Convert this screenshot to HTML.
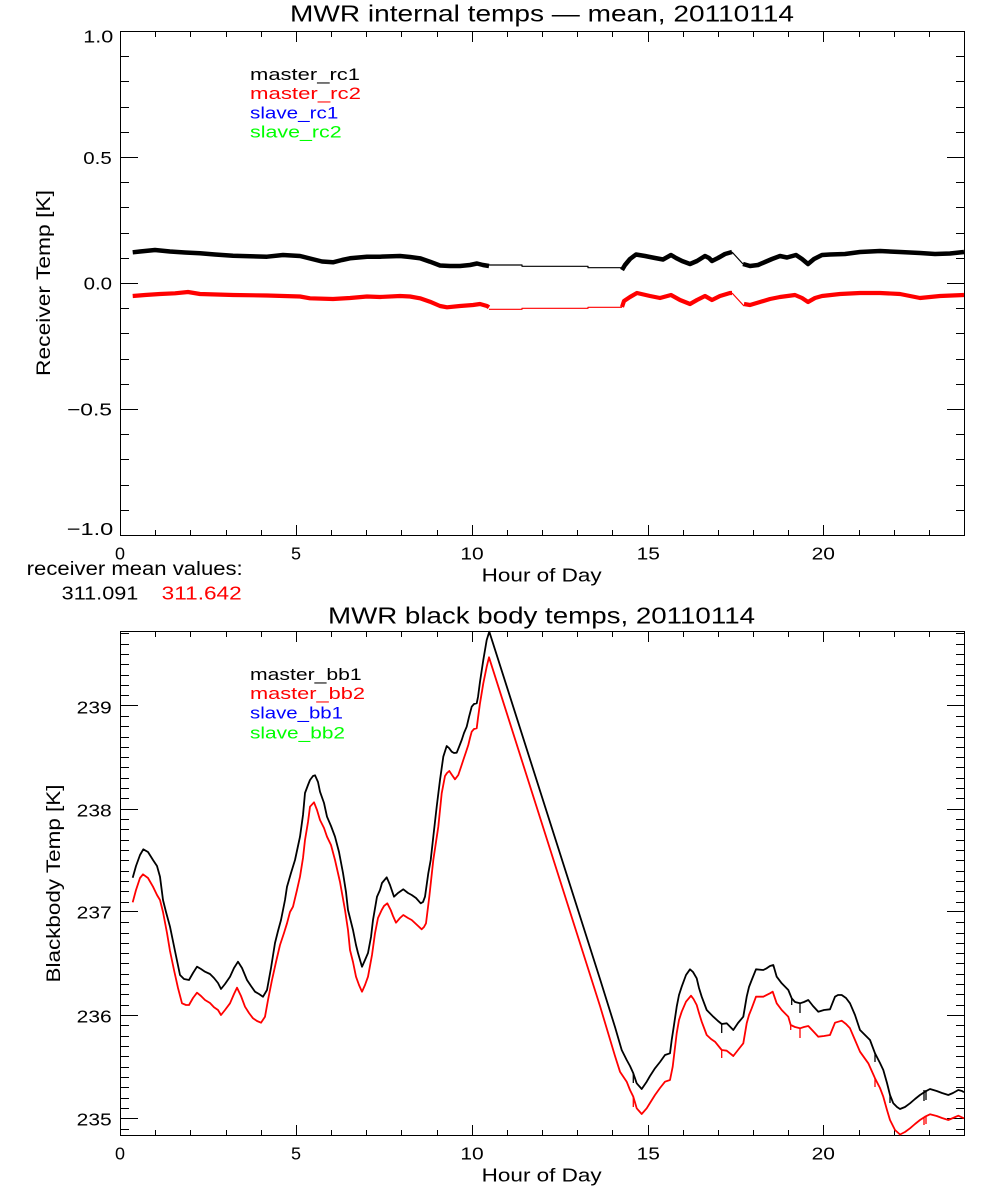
<!DOCTYPE html>
<html>
<head>
<meta charset="utf-8">
<style>
html,body{margin:0;padding:0;background:#fff;}
svg{display:block;}
text{font-family:"Liberation Sans","DejaVu Sans",sans-serif;}
</style>
</head>
<body>
<svg width="1000" height="1200" viewBox="0 0 1000 1200" xmlns="http://www.w3.org/2000/svg">
<rect width="1000" height="1200" fill="#fff"/>

<!-- ================= TOP PLOT ================= -->
<text x="542" y="21.7" font-size="23" text-anchor="middle" textLength="504" lengthAdjust="spacingAndGlyphs">MWR internal temps — mean, 20110114</text>

<g stroke="#000" stroke-width="1" fill="none" shape-rendering="crispEdges">
<rect x="120.5" y="31.5" width="844" height="504"/>
<!-- x ticks bottom -->
<path d="M120.5 535v-10M155.5 535v-5M190.5 535v-5M226.5 535v-5M261.5 535v-5M296.5 535v-10M331.5 535v-5M366.5 535v-5M401.5 535v-5M437.5 535v-5M472.5 535v-10M507.5 535v-5M542.5 535v-5M577.5 535v-5M612.5 535v-5M648.5 535v-10M683.5 535v-5M718.5 535v-5M753.5 535v-5M788.5 535v-5M823.5 535v-10M859.5 535v-5M894.5 535v-5M929.5 535v-5M964.5 535v-10"/>
<!-- x ticks top -->
<path d="M120.5 32v10M155.5 32v5M190.5 32v5M226.5 32v5M261.5 32v5M296.5 32v10M331.5 32v5M366.5 32v5M401.5 32v5M437.5 32v5M472.5 32v10M507.5 32v5M542.5 32v5M577.5 32v5M612.5 32v5M648.5 32v10M683.5 32v5M718.5 32v5M753.5 32v5M788.5 32v5M823.5 32v10M859.5 32v5M894.5 32v5M929.5 32v5M964.5 32v10"/>
<!-- y ticks left -->
<path d="M121 56.5h8M121 81.5h8M121 107.5h8M121 132.5h8M121 157.5h17M121 182.5h8M121 207.5h8M121 233.5h8M121 258.5h8M121 283.5h17M121 308.5h8M121 333.5h8M121 359.5h8M121 384.5h8M121 409.5h17M121 434.5h8M121 459.5h8M121 485.5h8M121 510.5h8"/>
<!-- y ticks right -->
<path d="M964 56.5h-8M964 81.5h-8M964 107.5h-8M964 132.5h-8M964 157.5h-17M964 182.5h-8M964 207.5h-8M964 233.5h-8M964 258.5h-8M964 283.5h-17M964 308.5h-8M964 333.5h-8M964 359.5h-8M964 384.5h-8M964 409.5h-17M964 434.5h-8M964 459.5h-8M964 485.5h-8M964 510.5h-8"/>
</g>

<!-- top y labels -->
<g font-size="17.5" text-anchor="end">
<text x="113.3" y="42.7" textLength="30" lengthAdjust="spacingAndGlyphs">1.0</text>
<text x="111.7" y="164" textLength="28.4" lengthAdjust="spacingAndGlyphs">0.5</text>
<text x="112" y="289.3" textLength="28.4" lengthAdjust="spacingAndGlyphs">0.0</text>
<text x="112" y="415.3" textLength="45" lengthAdjust="spacingAndGlyphs">−0.5</text>
<text x="113.3" y="535" textLength="46.6" lengthAdjust="spacingAndGlyphs">−1.0</text>
</g>
<!-- top x labels -->
<g font-size="17.5" text-anchor="middle">
<text x="120" y="559.3" textLength="10" lengthAdjust="spacingAndGlyphs">0</text>
<text x="296" y="559.3" textLength="10" lengthAdjust="spacingAndGlyphs">5</text>
<text x="472" y="559.3" textLength="23.3" lengthAdjust="spacingAndGlyphs">10</text>
<text x="648.3" y="559.3" textLength="23.3" lengthAdjust="spacingAndGlyphs">15</text>
<text x="823.3" y="559.3" textLength="23.3" lengthAdjust="spacingAndGlyphs">20</text>
</g>
<text x="541.7" y="581.7" font-size="18.5" text-anchor="middle" textLength="120" lengthAdjust="spacingAndGlyphs">Hour of Day</text>
<text transform="translate(50,283) rotate(-90)" font-size="19" text-anchor="middle" textLength="186" lengthAdjust="spacingAndGlyphs">Receiver Temp [K]</text>

<!-- top legend -->
<g font-size="16.5">
<text x="250" y="80" fill="#000" textLength="110" lengthAdjust="spacingAndGlyphs">master_rc1</text>
<text x="250" y="99" fill="#ff0000" textLength="111" lengthAdjust="spacingAndGlyphs">master_rc2</text>
<text x="250" y="118.3" fill="#0000ff" textLength="88.3" lengthAdjust="spacingAndGlyphs">slave_rc1</text>
<text x="250" y="137.7" fill="#00ff00" textLength="91.7" lengthAdjust="spacingAndGlyphs">slave_rc2</text>
</g>

<!-- top data -->
<g fill="none" stroke-linejoin="round" stroke-linecap="butt">
<polyline stroke="#000" stroke-width="4.5" points="132.7,252.3 140,251.5 155,250 170,251.5 185,252.5 200,253.3 215,254.5 233,255.7 250,256.3 267,256.7 283,255 300,256 312,259 322,261.5 333,262.3 342,260 350,258.3 367,256.7 380,256.7 400,256 410,257 420,258.3 430,261.7 440,265.5 450,266 460,266 470,265 477,263.5 483,265 489,266"/>
<polyline stroke="#000" stroke-width="1.2" points="489,265 522,265 522,266.3 588,266.3 588,267.7 622,267.7"/>
<polyline stroke="#000" stroke-width="4.5" points="622,270 625,265 630,259 636,254.5 645,256 655,258 663,259.5 671,255 676,258 682,261 690,264 697,261 705,256 709,258 712,261 718,258 725,254 732,252"/>
<polyline stroke="#000" stroke-width="1.2" points="732,252 743,264"/>
<polyline stroke="#000" stroke-width="4.5" points="743,264 750,266 758,265 765,262 772,259 780,256 787,257.5 796,255 802,259 808,264 814,259 822,255 830,254.5 845,254 860,252 880,251 900,252 920,253 935,254 950,253.5 964,252"/>

<polyline stroke="#ff0000" stroke-width="4.2" points="132.7,296 145,295 160,294 175,293.3 188,292 200,294 233,295 267,295.5 300,296.5 310,298.3 333,299 350,298 367,296.5 380,297 400,296 410,296.5 420,298.3 430,301.7 440,306 447,307.3 460,306 473,305 480,304 487,306 489,307.3"/>
<polyline stroke="#ff0000" stroke-width="1.2" points="489,309.3 522,309.3 522,308.3 588,308.3 588,307.3 622,307.3"/>
<polyline stroke="#ff0000" stroke-width="4.2" points="622,307 624,301 630,297 637,293 650,296 660,298 671,295 680,300 690,304 697,300 705,296 712,300 720,296 730,293 732,293"/>
<polyline stroke="#ff0000" stroke-width="1.2" points="732,293 744,306"/>
<polyline stroke="#ff0000" stroke-width="4.2" points="744,304 750,305 760,302 770,299 780,297 795,295 802,298 808,302 815,298 822,296 840,294 860,293 880,293 900,294 910,296 920,298 930,297 940,296 964,295"/>
</g>

<!-- receiver mean values -->
<text x="26.7" y="575" font-size="19" textLength="216" lengthAdjust="spacingAndGlyphs">receiver mean values:</text>
<text x="61.7" y="599.3" font-size="18.5" textLength="76.6" lengthAdjust="spacingAndGlyphs">311.091</text>
<text x="161.7" y="599.3" font-size="18.5" fill="#ff0000" textLength="80" lengthAdjust="spacingAndGlyphs">311.642</text>

<!-- ================= BOTTOM PLOT ================= -->
<text x="541.5" y="623.3" font-size="23" text-anchor="middle" textLength="427" lengthAdjust="spacingAndGlyphs">MWR black body temps, 20110114</text>

<g stroke="#000" stroke-width="1" fill="none" shape-rendering="crispEdges">
<rect x="120.5" y="631.5" width="844" height="504"/>
<!-- x ticks bottom -->
<path d="M120.5 1135v-10M155.5 1135v-5M190.5 1135v-5M226.5 1135v-5M261.5 1135v-5M296.5 1135v-10M331.5 1135v-5M366.5 1135v-5M401.5 1135v-5M437.5 1135v-5M472.5 1135v-10M507.5 1135v-5M542.5 1135v-5M577.5 1135v-5M612.5 1135v-5M648.5 1135v-10M683.5 1135v-5M718.5 1135v-5M753.5 1135v-5M788.5 1135v-5M823.5 1135v-10M859.5 1135v-5M894.5 1135v-5M929.5 1135v-5M964.5 1135v-10"/>
<!-- x ticks top -->
<path d="M120.5 632v10M155.5 632v5M190.5 632v5M226.5 632v5M261.5 632v5M296.5 632v10M331.5 632v5M366.5 632v5M401.5 632v5M437.5 632v5M472.5 632v10M507.5 632v5M542.5 632v5M577.5 632v5M612.5 632v5M648.5 632v10M683.5 632v5M718.5 632v5M753.5 632v5M788.5 632v5M823.5 632v10M859.5 632v5M894.5 632v5M929.5 632v5M964.5 632v10"/>
<!-- y ticks left -->
<path d="M121 1129.5h8M121 1118.5h17M121 1108.5h8M121 1098.5h8M121 1087.5h8M121 1077.5h8M121 1067.5h8M121 1056.5h8M121 1046.5h8M121 1036.5h8M121 1025.5h8M121 1015.5h17M121 1005.5h8M121 994.5h8M121 984.5h8M121 974.5h8M121 963.5h8M121 953.5h8M121 943.5h8M121 933.5h8M121 922.5h8M121 911.5h17M121 902.5h8M121 891.5h8M121 881.5h8M121 871.5h8M121 860.5h8M121 850.5h8M121 840.5h8M121 829.5h8M121 819.5h8M121 809.5h17M121 798.5h8M121 788.5h8M121 778.5h8M121 767.5h8M121 757.5h8M121 747.5h8M121 737.5h8M121 726.5h8M121 716.5h8M121 705.5h17M121 695.5h8M121 685.5h8M121 675.5h8M121 664.5h8M121 654.5h8M121 644.5h8M121 633.5h8"/>
<!-- y ticks right -->
<path d="M964 1129.5h-8M964 1118.5h-17M964 1108.5h-8M964 1098.5h-8M964 1087.5h-8M964 1077.5h-8M964 1067.5h-8M964 1056.5h-8M964 1046.5h-8M964 1036.5h-8M964 1025.5h-8M964 1015.5h-17M964 1005.5h-8M964 994.5h-8M964 984.5h-8M964 974.5h-8M964 963.5h-8M964 953.5h-8M964 943.5h-8M964 933.5h-8M964 922.5h-8M964 911.5h-17M964 902.5h-8M964 891.5h-8M964 881.5h-8M964 871.5h-8M964 860.5h-8M964 850.5h-8M964 840.5h-8M964 829.5h-8M964 819.5h-8M964 809.5h-17M964 798.5h-8M964 788.5h-8M964 778.5h-8M964 767.5h-8M964 757.5h-8M964 747.5h-8M964 737.5h-8M964 726.5h-8M964 716.5h-8M964 705.5h-17M964 695.5h-8M964 685.5h-8M964 675.5h-8M964 664.5h-8M964 654.5h-8M964 644.5h-8M964 633.5h-8"/>
</g>

<!-- bottom y labels -->
<g font-size="17.5" text-anchor="end">
<text x="111.7" y="713.3" textLength="35" lengthAdjust="spacingAndGlyphs">239</text>
<text x="111.7" y="816.7" textLength="35" lengthAdjust="spacingAndGlyphs">238</text>
<text x="111.7" y="918.3" textLength="35" lengthAdjust="spacingAndGlyphs">237</text>
<text x="111.7" y="1022.7" textLength="35" lengthAdjust="spacingAndGlyphs">236</text>
<text x="111.7" y="1125.7" textLength="35" lengthAdjust="spacingAndGlyphs">235</text>
</g>
<!-- bottom x labels -->
<g font-size="17.5" text-anchor="middle">
<text x="120" y="1159.3" textLength="10" lengthAdjust="spacingAndGlyphs">0</text>
<text x="296" y="1159.3" textLength="10" lengthAdjust="spacingAndGlyphs">5</text>
<text x="472" y="1159.3" textLength="23.3" lengthAdjust="spacingAndGlyphs">10</text>
<text x="648.3" y="1159.3" textLength="23.3" lengthAdjust="spacingAndGlyphs">15</text>
<text x="823.3" y="1159.3" textLength="23.3" lengthAdjust="spacingAndGlyphs">20</text>
</g>
<text x="541.7" y="1181.5" font-size="18.5" text-anchor="middle" textLength="120" lengthAdjust="spacingAndGlyphs">Hour of Day</text>
<text transform="translate(60,883.5) rotate(-90)" font-size="19" text-anchor="middle" textLength="198" lengthAdjust="spacingAndGlyphs">Blackbody Temp [K]</text>

<!-- bottom legend -->
<g font-size="16.5">
<text x="250" y="680" fill="#000" textLength="111.7" lengthAdjust="spacingAndGlyphs">master_bb1</text>
<text x="250" y="699" fill="#ff0000" textLength="115" lengthAdjust="spacingAndGlyphs">master_bb2</text>
<text x="250" y="718.3" fill="#0000ff" textLength="93" lengthAdjust="spacingAndGlyphs">slave_bb1</text>
<text x="250" y="738.3" fill="#00ff00" textLength="95" lengthAdjust="spacingAndGlyphs">slave_bb2</text>
</g>

<!-- bottom data -->
<g fill="none" stroke-width="1.8" stroke-linejoin="round">
<polyline stroke="#000" points="132.7,877.7 136,866 140,855 143.3,849.3 148,852 153,860 157,866 160,876.7 163,900 166,912 170,926.7 175,951 180,975 184,979 189,980 193,973 197,966.7 201,969 205,971.7 210,974 214,978 218,983 221,989 225,984 230,976.7 234,968 238,961.7 242,968 247,980 251,986 255,991.7 259,994 263,996.7 267,990 271,968 275,943 278,931 281,920 285,900 287,886.7 291,873 295,860 298,846 300,836.7 303,815 305,793 308,785 310,780 313,776 315,775.3 318,782 320,791.7 324,803 327,816.7 331,826 335,836.7 339,852 343,873 346,892 348,910 351,922 353,930 356,945 358,953 362,966.7 365,960 368,953 371,937 373,920 377,896.7 380,890 382,883 386.7,877.3 390,885 394,896.7 398,893 403.3,889.3 408,893 411.7,895 416,898 420.7,903.3 423,902 425,896.7 428.3,873.3 430.7,860 433.3,836.7 436.7,806.7 440,780 443.3,756.7 446.7,746 449,748 451.7,751.7 454,753 456.7,752.7 459,747 461.7,740 464,733 466.7,726.7 469,717 471.7,706.7 474,704 476.7,703.3 478,697 480,681.7 483.3,660 486.7,640 489.3,631.7 600,979 615,1027 621.7,1050 626.7,1060 630,1066 633.3,1073.3 636.7,1083.3 641.7,1089 646.7,1081.7 650,1076 655,1068.3 660,1062 665,1055 670,1053.3 671.7,1040 674,1025 676.7,1006.7 679,995 681.7,986.7 686,975 690,969.3 693,972 696.7,978.3 699,988 701.7,996.7 706.7,1010 713.3,1016.7 718,1021 721.7,1024 726.7,1023.3 733.3,1030 738,1023 743.3,1016.7 746.7,996.7 749,987 751.7,980 756,969.3 763.3,970 766.7,968.3 770,966 773.3,965 776.7,976.7 781.7,983.3 788.3,990 791.7,998.3 795,1002 800,1003.3 804,1002 808.3,1000 813,1006 818.3,1011.7 824,1010 830,1009.3 835,996.7 838,995 841.7,995 846,998 850,1003.3 855,1015 860,1030 865,1035 870,1040 875,1053.3 880,1063 883.3,1070 887,1083 890,1095 893.3,1103.3 897,1107 900,1109 905,1107 910,1103.3 915,1099 920,1095 925,1091.7 930,1089 936.7,1091 942,1093 948.3,1095 953,1093 958.3,1090 962,1091 964,1092.3"/>
<path stroke="#000" stroke-width="1.3" d="M633.3 1073V1083M721.7 1024V1033M791.7 998V1005M800 1003V1013M875 1053V1062M890 1095V1103M924 1090V1101M926 1090V1100"/>

<polyline stroke="#ff0000" points="132.7,902.3 136,890 140,878 143,874.3 148,878 153,886.7 157,895 160,900 163,912 167,933 170,951 174,970 178,988 182,1003.3 186,1005 189,1005 193,998 197,992.7 201,996 205,1000 210,1003 214,1007.3 218,1010 221,1015 225,1010 230,1003.3 234,994 237,987.7 241,996 245,1006.7 249,1013 253,1018.3 257,1021 261,1022.7 265,1016.7 268,1000 272,980 276,962 280,945 284,933 287,923.3 290,912 293,906.7 297,890 300,876.7 303,858 305,840 308,822 310,806.7 314,802.3 317,810 320,820 324,828 327,836.7 331,845 335,860 340,882 345,910 348,930 350,950 353,962 356,976.7 359,985 362,991.7 365,985 368,976.7 372,955 375,933.3 378,918 381.7,910 384,906 387.3,903.3 390.7,910 393,916 396,922.7 400,918 403.3,915 408,918 411.7,920 416,924 421.7,929.3 424,927 426,923.3 429.3,896.7 433.3,860 438.3,826.7 441.7,793.3 445,776 447,773 449.3,771 452,775 455,779.3 458.3,775 461,767 463.3,760 466,752 468.3,745 470,738 471.7,731.7 474,729 476.7,728.3 478,718 480,703.3 483.3,683.3 486.7,666.7 489,657.3 600,1006 615,1056 620,1071.7 626.7,1081.7 630,1090 633.3,1096.7 636.7,1108.3 641.7,1114 646.7,1108.3 650,1103 655,1095 660,1088 665,1081.7 670,1080 672.7,1066.7 676.7,1033.3 679,1020 681.7,1011.7 686,1001.7 691,995.7 693.5,999 696.7,1005 699,1013 701.7,1021.7 706.7,1035 711,1039 715,1041.7 721.7,1050 726.7,1050.7 733.3,1056 738,1050 743.3,1043.3 746.7,1023.3 749,1015 751.7,1008.3 756,996.7 763.3,996.7 770,993.3 772.7,991.7 776.7,1003.3 781.7,1010 788.3,1016.7 790.7,1025 795,1027 800,1028.3 804,1027 808.3,1026 813,1031 818.3,1036.7 824,1036 830,1035 835,1022.7 841.7,1020.7 846,1024 850,1028.3 855,1040 860,1051.7 868.3,1063.3 875,1078.3 880,1088 883.3,1096.7 887,1110 890,1120 895,1130 900,1134.5 905,1132 910,1128.3 915,1124 920,1120 925,1116.7 930,1114.3 936.7,1116 942,1118 948.3,1120 953,1118 958.3,1115.7 964,1118.3"/>
<path stroke="#ff0000" stroke-width="1.3" d="M633.3 1097V1107M721.7 1050V1058M790.7 1025V1030M800 1028V1038M875 1078V1087M924 1117V1125M926 1116V1124"/>
</g>
</svg>
</body>
</html>
